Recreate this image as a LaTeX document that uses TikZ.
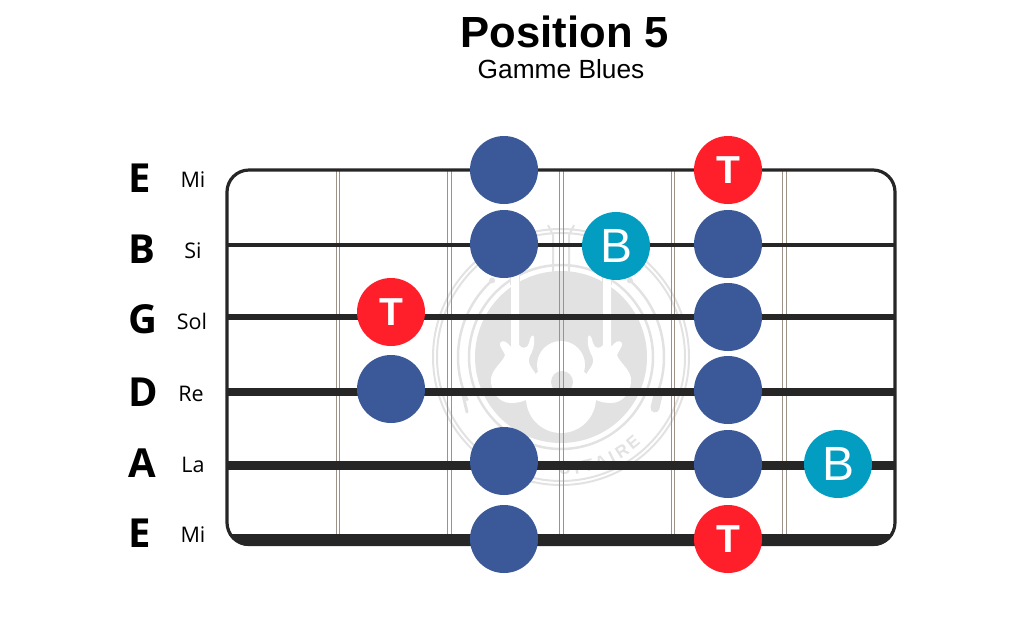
\documentclass[tikz,border=0pt]{standalone}
\usepackage{fontspec}
\setmainfont{Liberation Sans}
\newfontfamily\labelfont{Open Sans}
\definecolor{dotblue}{HTML}{3B5998}
\definecolor{dotred}{HTML}{FF1F2A}
\definecolor{dotteal}{HTML}{049DC2}
\definecolor{stringdark}{HTML}{262626}
\definecolor{fretgrey}{HTML}{9C9288}
\definecolor{markgrey}{HTML}{E2E2E2}
\tikzset{
note/.style={circle, fill=#1, minimum size=68pt, inner sep=0pt, outer sep=0pt, text=white},
note/.default={dotblue},
tonic/.style={note=dotred, font=\fontsize{39}{39}\selectfont\bfseries},
blues/.style={note=dotteal, font=\fontsize{48}{48}\selectfont},
tuning/.style={anchor=base, inner sep=0pt, font=\labelfont\fontsize{40}{40}\selectfont\bfseries},
notename/.style={anchor=base, inner sep=0pt, font=\labelfont\fontsize{21.5}{21.5}\selectfont},
markline/.style={markgrey, line width=#1},
markline/.default={2pt}
}

\begin{document}
\begin{tikzpicture}[x=1pt,y=-1pt]
\useasboundingbox (0,0) rectangle (1024,622);

% titles
\node[anchor=base, inner sep=0pt, font=\fontsize{43.6}{43.6}\selectfont\bfseries] (title) at (565,47) {Position 5};
\node[anchor=base, inner sep=0pt, font=\fontsize{26.3}{26.3}\selectfont] (subtitle) at (561,78) {Gamme Blues};

% watermark
\draw[markline] (561,357) circle (128);
\draw[markline] (561,357) circle (124);
\draw[markline=2.5pt] (561,357) circle (92);
\fill[markgrey] (561,357) circle (86);
\foreach \s in {1,-1}
{
\begin{scope}[shift={(561,0)},xscale=\s]
\draw[markline=2.5pt] plot[domain=-48:25,samples=40] ({103*cos(\x)},{357+103*sin(\x)});
\fill[markgrey] ({103*cos(-48)},{357+103*sin(-48)}) circle (3);
\draw[markline] (42,285) -- (42,250);
\draw[markline] (50,285) -- (50,250);
\draw[markline] (8,275) -- (8,235) -- (13,225);
\fill[white] (42,270) -- (42,345) .. controls (40,349) and (33,349) .. (32,343)
  .. controls (31,337) and (28,333) .. (27,337) .. controls (26,345) and (28,350) .. (31,356)
  .. controls (35,364) and (28,368) .. (23,378) .. controls (20,392) and (32,403) .. (50,403)
  .. controls (62,403) and (71,392) .. (70,378) .. controls (68,368) and (58,362) .. (56,355)
  .. controls (58,350) and (62,346) .. (61,343) .. controls (58,339) and (54,342) .. (50,347)
  -- (50,270) -- cycle;
\end{scope}
}
\fill[white] (561,365) circle (24);
\fill[white] (561,398) circle (35);
\fill[markgrey] (562,382) circle (11);
\draw[markline=9pt, line cap=round] (658,395) -- (655,408);
\draw[markline=3pt, line cap=round] (463,395) -- (467,412);
\foreach \letter/\ang [count=\i] in {E/50,R/57,I/63,A/69,T/76,I/82,U/88}
  \node[rotate=90-\ang, inner sep=0pt, text=markgrey, font=\fontsize{17}{17}\selectfont\bfseries] (mark\i)
    at ({561+112*cos(\ang)},{357+112*sin(\ang)}) {\letter};

% frets
\foreach \x in {338,449.5,561.5,673,784.5}
{
\draw[fretgrey, line width=1.3pt] (\x-1.7,170) -- (\x-1.7,534);
\draw[fretgrey, line width=1.3pt] (\x+1.7,170) -- (\x+1.7,534);
}

% strings
\foreach \y/\w in {245/3.8,317/6.5,392/7.5,465/9}
  \draw[stringdark, line width=\w pt] (227,\y) -- (895,\y);

% neck
\draw[stringdark, line width=3.2pt, rounded corners=22pt] (227,170) rectangle (895,544.5);
\begin{scope}
\clip[rounded corners=23.6pt] (225.4,168.4) rectangle (896.6,546);
\fill[stringdark] (225.4,533.5) rectangle (896.6,546);
\end{scope}

% notes
\foreach \x/\y/\name in {504/170/a,504/244/b,728/244/c,728/317/d,391/389/e,728/390/f,504/461/g,728/464/h,504/539/i}
  \node[note] (blue\name) at (\x,\y) {};
\foreach \x/\y/\name in {728/170/a,391/312/b,728/539/c}
  \node[tonic] (tonic\name) at (\x,\y) {T};
\foreach \x/\y/\name in {616/246/a,838/464/b}
  \node[blues] (blues\name) at (\x,\y) {B};

% tuning
\foreach \x/\y/\note/\name in {140/192/E/a,142/263/B/b,143/333/G/c,143/406/D/d,142/477/A/e,140/547/E/f}
  \node[tuning] (tuning\name) at (\x,\y) {\note};
\foreach \x/\y/\note/\name in {193/187/Mi/a,193/258/Si/b,192/329/Sol/c,191/401/Re/d,193/472/La/e,193/542/Mi/f}
  \node[notename] (name\name) at (\x,\y) {\note};
\end{tikzpicture}
\end{document}
